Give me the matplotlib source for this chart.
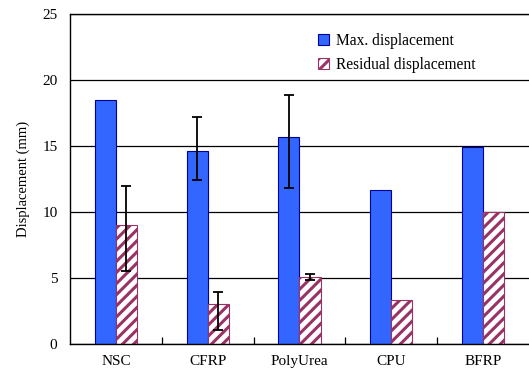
import numpy as np
import matplotlib.pyplot as plt

plt.rcParams['font.family'] = ['Liberation Serif', 'DejaVu Serif']
plt.rcParams['hatch.linewidth'] = 2.2

categories = ["NSC", "CFRP", "PolyUrea", "CPU", "BFRP"]
max_disp = [18.5, 14.65, 15.65, 11.65, 14.9]
residual_disp = [9.0, 3.0, 5.1, 3.3, 10.0]

# asymmetric scatter (lower, upper); None where no bar was drawn
max_err_low = [None, 2.25, 3.8, None, None]
max_err_high = [None, 2.55, 3.2, None, None]
res_err_low = [3.5, 1.95, 0.25, None, None]
res_err_high = [3.0, 0.95, 0.2, None, None]

blue = "#3366ff"
blue_edge = "#000099"
purple = "#993366"

fig = plt.figure(figsize=(5.29, 3.74), dpi=100)
ax = fig.add_axes([0.1323, 0.0802, 0.8677, 0.8824])

x = np.arange(len(categories))
w = 0.23

ax.yaxis.grid(True, color="black", linewidth=0.9)
ax.set_axisbelow(True)

ax.bar(x - w / 2, max_disp, w, color=blue, edgecolor=blue_edge,
       linewidth=0.8, label="Max. displacement", zorder=2)
ax.bar(x + w / 2, residual_disp, w, color="white", edgecolor=purple,
       hatch="///", linewidth=0.8, label="Residual displacement", zorder=2)


def draw_err(xpos, vals, lo, hi):
    idx = [i for i in range(len(vals)) if lo[i] is not None]
    ax.errorbar(xpos[idx], np.array(vals)[idx],
                yerr=[[lo[i] for i in idx], [hi[i] for i in idx]],
                fmt="none", ecolor="black", elinewidth=1.3, capsize=3.5,
                capthick=1.3, zorder=3)


draw_err(x - w / 2, max_disp, max_err_low, max_err_high)
draw_err(x + w / 2, residual_disp, res_err_low, res_err_high)

ax.set_xlim(-0.5, len(categories) - 0.5)
ax.set_ylim(0, 25)
ax.set_yticks([0, 5, 10, 15, 20, 25])
ax.set_xticks(x)
ax.set_xticklabels(categories, fontsize=11)
ax.set_xticks(x[:-1] + 0.5, minor=True)
ax.tick_params(axis="x", which="major", length=0, pad=8)
ax.tick_params(axis="x", which="minor", direction="in", length=5, width=0.9)
ax.tick_params(axis="y", length=0, pad=9, labelsize=11)
ax.spines["right"].set_visible(False)
for s in ["left", "bottom", "top"]:
    ax.spines[s].set_linewidth(1.0)

ax.set_ylabel("Displacement (mm)", fontsize=10.5, labelpad=9)

ax.legend(loc="upper left", bbox_to_anchor=(0.509, 0.985), frameon=False,
          fontsize=11.2, handlelength=0.7, handleheight=0.7,
          handletextpad=0.45, labelspacing=0.5)

fig.savefig("out.png", dpi=100)
